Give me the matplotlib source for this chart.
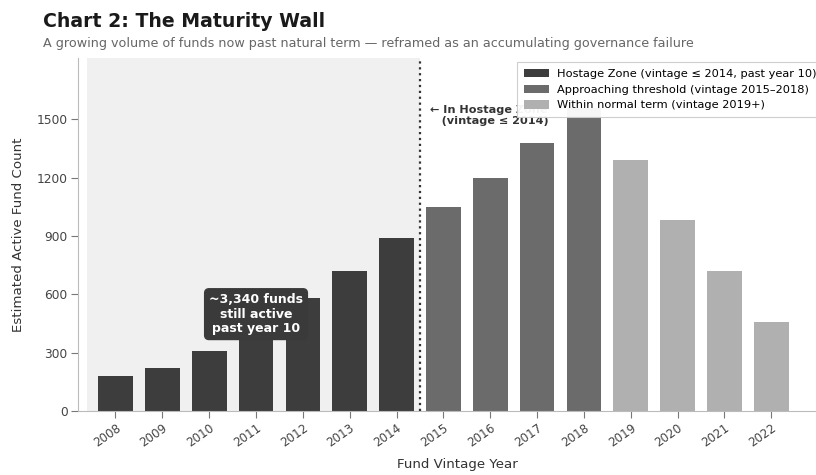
import matplotlib
matplotlib.use("Agg")
import matplotlib.pyplot as plt
from matplotlib.patches import Patch

years = ["2008", "2009", "2010", "2011", "2012", "2013", "2014", "2015",
         "2016", "2017", "2018", "2019", "2020", "2021", "2022"]
counts = [180, 220, 310, 440, 580, 720, 890, 1050, 1200, 1380, 1560,
          1290, 980, 720, 460]
groups = ["hostage"] * 7 + ["approach"] * 4 + ["normal"] * 4
colors = {"hostage": "#3d3d3d", "approach": "#6b6b6b", "normal": "#b0b0b0"}
labels = {"hostage": "Hostage Zone (vintage \u2264 2014, past year 10)",
          "approach": "Approaching threshold (vintage 2015\u20132018)",
          "normal": "Within normal term (vintage 2019+)"}
yticks = [0, 300, 600, 900, 1200, 1500]

plt.rcParams["font.family"] = ["DejaVu Sans"]

fig = plt.figure(figsize=(8.16, 4.75), dpi=100)
ax = fig.add_axes([0.0956, 0.1347, 0.93, 0.7433])

x = list(range(len(years)))
ax.axvspan(-0.6, 6.5, color="#f0f0f0", zorder=0, lw=0)
ax.bar(x, counts, width=0.74, color=[colors[g] for g in groups], zorder=2)
ax.axvline(6.5, color="#333333", linestyle=":", lw=1.6, zorder=3)

ax.set_xlim(-0.8, 15.4)
ax.set_ylim(0, 1815)
ax.set_xticks(x)
ax.set_xticklabels(years, rotation=35, ha="right", rotation_mode="anchor",
                   fontsize=8.6, color="#444444")
ax.set_yticks(yticks)
ax.set_yticklabels([str(v) for v in yticks], fontsize=8.8, color="#444444")
ax.tick_params(axis="both", colors="#777777", length=5, width=0.8, pad=2.5,
               labelcolor="#444444")
for s in ["top", "right"]:
    ax.spines[s].set_visible(False)
for s in ["left", "bottom"]:
    ax.spines[s].set_color("#bbbbbb")

ax.set_ylabel("Estimated Active Fund Count", fontsize=9.6, color="#333333", labelpad=8)
ax.set_xlabel("Fund Vintage Year", fontsize=9.6, color="#333333", labelpad=6)

ax.text(6.72, 1575, "\u2190 In Hostage Zone\n   (vintage \u2264 2014)", fontsize=8.1,
        fontweight="bold", color="#333333", ha="left", va="top",
        linespacing=1.15, zorder=4)

ax.text(3.0, 498, "~3,340 funds\nstill active\npast year 10", fontsize=9.0,
        fontweight="bold", color="white", ha="center", va="center", zorder=5,
        linespacing=1.15,
        bbox=dict(boxstyle="round,pad=0.35", fc="#3a3a3a", ec="#3a3a3a"))

handles = [Patch(facecolor=colors[k], label=labels[k]) for k in ["hostage", "approach", "normal"]]
leg = ax.legend(handles=handles, loc="upper left", bbox_to_anchor=(0.5785, 0.989),
                borderaxespad=0, fontsize=8.2, frameon=True, fancybox=False,
                framealpha=0.95, edgecolor="#cccccc", handlelength=2.2,
                handleheight=0.75, handletextpad=0.7, borderpad=0.6,
                labelspacing=0.5)
leg.get_frame().set_linewidth(0.8)
leg.set_zorder(6)

fig.text(0.053, 0.943, "Chart 2: The Maturity Wall", fontsize=13.6, fontweight="bold",
         color="#1a1a1a", ha="left", va="baseline")
fig.text(0.053, 0.902, "A growing volume of funds now past natural term \u2014 reframed as an accumulating governance failure",
         fontsize=9.2, color="#666666", ha="left", va="baseline")

fig.savefig("out.png", dpi=100)
